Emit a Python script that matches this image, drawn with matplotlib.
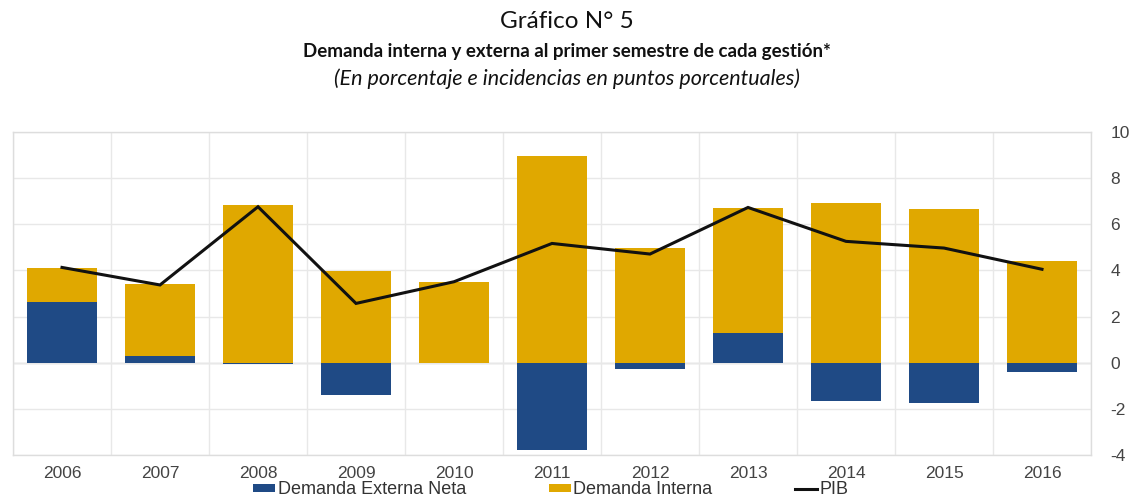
import matplotlib
matplotlib.use("Agg")
import matplotlib.pyplot as plt
import numpy as np

years = ["2006", "2007", "2008", "2009", "2010", "2011", "2012", "2013", "2014", "2015", "2016"]
demanda_externa = [2.65, 0.30, -0.05, -1.40, 0.0, -3.78, -0.29, 1.27, -1.65, -1.76, -0.39]
demanda_interna = [1.47, 3.10, 6.84, 3.97, 3.51, 8.95, 4.96, 5.42, 6.94, 6.66, 4.42]
pib = [4.13, 3.37, 6.76, 2.57, 3.51, 5.17, 4.71, 6.73, 5.26, 4.97, 4.05]
yticks = [-4, -2, 0, 2, 4, 6, 8, 10]

BLUE = "#1f4a85"
YELLOW = "#e0a800"

fig = plt.figure(figsize=(11.33, 5.01), dpi=100)
ax = fig.add_axes([13/1133, (501-455)/501, (1091-13)/1133, (455-132)/501])

x = np.arange(len(years))
ext = np.array(demanda_externa)
inte = np.array(demanda_interna)
bottom_int = np.where(ext > 0, ext, 0.0)

b1 = ax.bar(x, ext, width=0.72, color=BLUE, zorder=3, label="Demanda Externa Neta")
b2 = ax.bar(x, inte, width=0.72, bottom=bottom_int, color=YELLOW, zorder=3, label="Demanda Interna")
l1, = ax.plot(x, pib, color="#111111", lw=2.2, zorder=4, label="PIB", solid_joinstyle="miter")

ax.set_xlim(-0.5, len(years) - 0.5)
ax.set_ylim(-4, 10)
ax.set_yticks(yticks)
ax.set_yticklabels([str(t) for t in yticks])
ax.yaxis.tick_right()
ax.set_xticks(x)
ax.set_xticklabels(years)
ax.set_xticks(np.arange(-0.5, len(years), 1), minor=True)
ax.tick_params(axis="both", which="both", length=0, labelsize=12.5, labelcolor="#444444",
               labelfontfamily="Liberation Sans")
ax.tick_params(axis="y", pad=14)
ax.tick_params(axis="x", pad=8)
ax.grid(True, axis="y", which="major", color="#e8e8e8", lw=1.0, zorder=0)
ax.grid(True, axis="x", which="minor", color="#e8e8e8", lw=1.0, zorder=0)
ax.axhline(0, color="#cfcfcf", lw=1.0, zorder=1)
for s in ax.spines.values():
    s.set_color("#dddddd")
    s.set_linewidth(1.0)

fig.text(0.5, 1 - 21/501, "Gráfico N° 5", ha="center", va="center", fontsize=17.5,
         family="Lato", color="#111111")
fig.text(0.5, 1 - 51/501, "Demanda interna y externa al primer semestre de cada gestión*",
         ha="center", va="center", fontsize=13.5, family="Lato", fontweight="bold", color="#111111")
fig.text(0.5, 1 - 79/501, "(En porcentaje e incidencias en puntos porcentuales)",
         ha="center", va="center", fontsize=15.5, family="Lato", style="italic", color="#111111")

leg = fig.legend(handles=[b1, b2, l1], loc="center", bbox_to_anchor=(551/1133, 1 - 490/501),
                 ncol=3, frameon=False, handlelength=1.2, handleheight=0.35,
                 handletextpad=0.15, columnspacing=4.6, borderpad=0.2,
                 prop={"family": "Liberation Sans", "size": 13})
for t in leg.get_texts():
    t.set_color("#333333")

fig.savefig("out.png", dpi=100)
